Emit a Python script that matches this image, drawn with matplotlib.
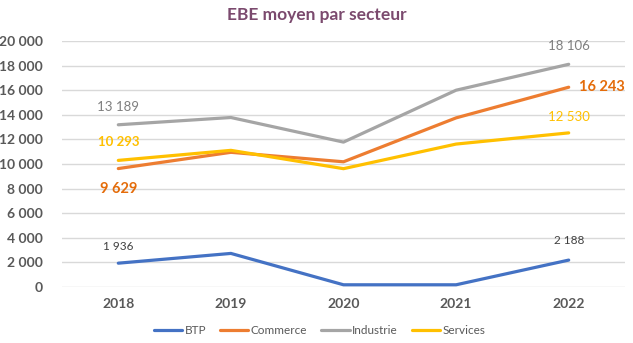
import matplotlib
matplotlib.use("Agg")
import matplotlib.pyplot as plt

years = ["2018", "2019", "2020", "2021", "2022"]
btp = [1936, 2730, 180, 180, 2188]
commerce = [9629, 10950, 10180, 13750, 16243]
industrie = [13189, 13780, 11780, 16000, 18106]
services = [10293, 11110, 9620, 11620, 12530]
yticks = [0, 2000, 4000, 6000, 8000, 10000, 12000, 14000, 16000, 18000, 20000]

def fmt(v):
    return f"{v:,}".replace(",", " ")

plt.rcParams['font.family'] = ['Lato', 'DejaVu Sans']

fig = plt.figure(figsize=(6.33, 3.43), dpi=100)
ax = fig.add_axes([62/633, (343-287)/343, (625-62)/633, (287-41)/343])

x = list(range(len(years)))
series = [("BTP", btp, "#4472C4"), ("Commerce", commerce, "#ED7D31"),
          ("Industrie", industrie, "#A5A5A5"), ("Services", services, "#FFC000")]
for name, vals, col in series:
    ax.plot(x, vals, color=col, lw=2.3, label=name, solid_capstyle='round', zorder=3)

ax.set_xlim(-0.5, 4.5)
ax.set_ylim(0, 20000)
ax.set_yticks(yticks)
ax.set_yticklabels([fmt(v) for v in yticks], fontsize=10, fontweight='bold', color='#595959')
ax.set_xticks(x)
ax.set_xticklabels(years, fontsize=10, fontweight='bold', color='#595959')
ax.grid(axis='y', color='#D9D9D9', lw=1)
ax.set_axisbelow(True)
for s in ax.spines.values():
    s.set_visible(False)
ax.tick_params(length=0)
ax.tick_params(axis='y', pad=14)
ax.tick_params(axis='x', pad=8)

def lab(i, vals, dy, color, size, weight, dx=0, ha='center'):
    ax.annotate(fmt(vals[i]), (x[i], vals[i]), xytext=(dx, dy), textcoords='offset pixels',
                ha=ha, va='center', fontsize=size, fontweight=weight, color=color)

lab(0, industrie, 18, '#7F7F7F', 9.5, 'normal')
lab(4, industrie, 18, '#7F7F7F', 9.5, 'normal')
lab(0, services, 18, '#FFC000', 9.5, 'bold')
lab(4, services, 16, '#FFC000', 9.5, 'normal')
lab(0, commerce, -20, '#E46C0A', 10.5, 'bold')
lab(4, commerce, 0, '#E46C0A', 10.5, 'bold', dx=10, ha='left')
lab(0, btp, 17, '#404040', 8.5, 'normal')
lab(4, btp, 20, '#404040', 8.5, 'normal')

fig.text(0.50, 1 - 15/343, "EBE moyen par secteur", ha='center', va='center',
         fontsize=12.5, fontweight='bold', color='#7B4A6E')

fig.legend(loc='center', bbox_to_anchor=(0.505, 1 - 331/343), ncol=4, frameon=False,
           fontsize=8.5, handlelength=2.4, handletextpad=0.2, columnspacing=1.2,
           labelcolor='#595959')

fig.savefig("out.png", dpi=100)
